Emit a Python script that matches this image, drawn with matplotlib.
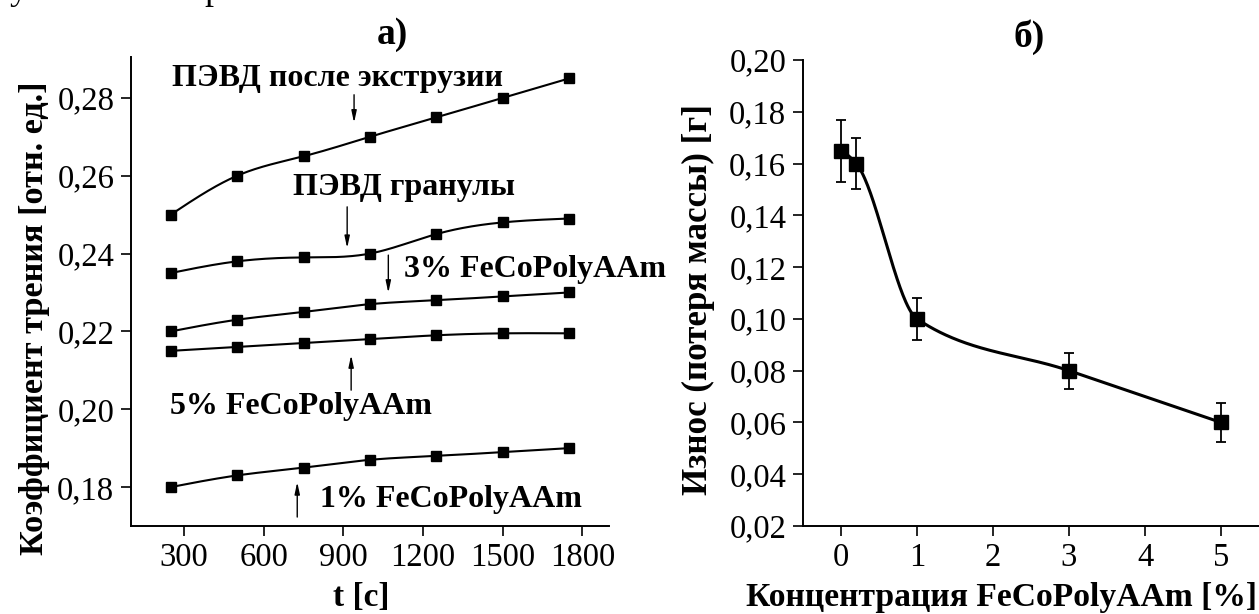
import numpy as np
import matplotlib
matplotlib.use("Agg")
import matplotlib.pyplot as plt
from matplotlib.ticker import FuncFormatter

plt.rcParams["font.family"] = ["Liberation Serif", "DejaVu Serif"]

# ---- panel a): friction coefficient vs time ----
time_s = [250, 500, 750, 1000, 1250, 1500, 1750]
ldpe_extruded = [0.250, 0.260, 0.265, 0.270, 0.275, 0.280, 0.285]
ldpe_granules = [0.235, 0.238, 0.239, 0.240, 0.245, 0.248, 0.249]
fecopolyaam_3 = [0.220, 0.223, 0.225, 0.227, 0.228, 0.229, 0.230]
fecopolyaam_5 = [0.215, 0.216, 0.217, 0.218, 0.219, 0.2195, 0.2195]
fecopolyaam_1 = [0.180, 0.183, 0.185, 0.187, 0.188, 0.189, 0.190]
time_ticks = [300, 600, 900, 1200, 1500, 1800]
friction_ticks = [0.18, 0.20, 0.22, 0.24, 0.26, 0.28]

# ---- panel б): wear vs concentration ----
concentration = [0, 0.2, 1, 3, 5]
wear = [0.165, 0.160, 0.100, 0.080, 0.060]
wear_err = [0.012, 0.010, 0.008, 0.007, 0.0075]
conc_ticks = [0, 1, 2, 3, 4, 5]
wear_ticks = [0.02, 0.04, 0.06, 0.08, 0.10, 0.12, 0.14, 0.16, 0.18, 0.20]


def natural_spline(x, y, n=300):
    """Natural cubic spline through (x, y), evaluated on a fine grid."""
    x = np.asarray(x, float)
    y = np.asarray(y, float)
    k = len(x)
    h = np.diff(x)
    A = np.zeros((k, k))
    r = np.zeros(k)
    A[0, 0] = A[-1, -1] = 1.0
    for i in range(1, k - 1):
        A[i, i - 1] = h[i - 1]
        A[i, i] = 2 * (h[i - 1] + h[i])
        A[i, i + 1] = h[i]
        r[i] = 3 * ((y[i + 1] - y[i]) / h[i] - (y[i] - y[i - 1]) / h[i - 1])
    c = np.linalg.solve(A, r)
    b = (y[1:] - y[:-1]) / h - h * (2 * c[:-1] + c[1:]) / 3
    d = (c[1:] - c[:-1]) / (3 * h)
    xs = np.linspace(x[0], x[-1], n)
    idx = np.clip(np.searchsorted(x, xs) - 1, 0, k - 2)
    t = xs - x[idx]
    ys = y[idx] + b[idx] * t + c[idx] * t ** 2 + d[idx] * t ** 3
    return xs, ys


def pchip(x, y, n=400):
    """Monotone piecewise cubic Hermite curve through (x, y)."""
    x = np.asarray(x, float)
    y = np.asarray(y, float)
    h = np.diff(x)
    delta = np.diff(y) / h
    k = len(x)
    m = np.zeros(k)
    for i in range(1, k - 1):
        if delta[i - 1] * delta[i] > 0:
            w1 = 2 * h[i] + h[i - 1]
            w2 = h[i] + 2 * h[i - 1]
            m[i] = (w1 + w2) / (w1 / delta[i - 1] + w2 / delta[i])
    m[0] = ((2 * h[0] + h[1]) * delta[0] - h[0] * delta[1]) / (h[0] + h[1])
    if np.sign(m[0]) != np.sign(delta[0]):
        m[0] = 0
    m[-1] = ((2 * h[-1] + h[-2]) * delta[-1] - h[-1] * delta[-2]) / (h[-1] + h[-2])
    if np.sign(m[-1]) != np.sign(delta[-1]):
        m[-1] = 0
    xs = np.linspace(x[0], x[-1], n)
    idx = np.clip(np.searchsorted(x, xs) - 1, 0, k - 2)
    t = (xs - x[idx]) / h[idx]
    h00 = 2 * t ** 3 - 3 * t ** 2 + 1
    h10 = t ** 3 - 2 * t ** 2 + t
    h01 = -2 * t ** 3 + 3 * t ** 2
    h11 = t ** 3 - t ** 2
    ys = (h00 * y[idx] + h10 * h[idx] * m[idx]
          + h01 * y[idx + 1] + h11 * h[idx] * m[idx + 1])
    return xs, ys


comma = FuncFormatter(lambda v, p: f"{v:.2f}".replace(".", ","))
TICK_FS = 23.5
NOTE_FS = 23

fig = plt.figure(figsize=(12.59, 6.14), dpi=100)
W, H = 1259, 614


def place(l, t, r, b):
    return fig.add_axes([l / W, 1 - b / H, (r - l) / W, (b - t) / H])


def style(ax):
    for s in ("top", "right"):
        ax.spines[s].set_visible(False)
    for s in ("left", "bottom"):
        ax.spines[s].set_linewidth(1.4)
    ax.tick_params(direction="out", length=7, width=1.2,
                   labelsize=TICK_FS, pad=5)


# descenders of the preceding text line, cut by the top edge
fig.text(19 / W, 1 + 1 / H, "у", ha="center", va="baseline", fontsize=26)
fig.text(213 / W, 1 + 1 / H, "р", ha="center", va="baseline", fontsize=26)

# panel a)
ax1 = place(131, 57, 609, 526)
style(ax1)
for series in (ldpe_extruded, ldpe_granules, fecopolyaam_3,
               fecopolyaam_5, fecopolyaam_1):
    xs, ys = natural_spline(time_s, series)
    ax1.plot(xs, ys, color="black", lw=1.5)
    ax1.plot(time_s, series, ls="none", marker="s", ms=7.5,
             color="black")
ax1.set_xlim(100, 1900)
ax1.set_ylim(0.17, 0.2905)
ax1.set_xticks(time_ticks)
ax1.set_yticks(friction_ticks)
ax1.yaxis.set_major_formatter(comma)
ax1.set_xlabel("t [c]", fontsize=24, fontweight="bold")
ax1.xaxis.set_label_coords(0.481, -0.119)
ax1.set_ylabel("Коэффициент трения [отн. ед.]", fontsize=24.7,
               fontweight="bold")
ax1.yaxis.set_label_coords(-0.1695, 0.4435)

arrow = dict(arrowstyle="-|>,head_length=0.7,head_width=0.15",
             color="black", lw=1.0, shrinkA=0, shrinkB=0)
note = dict(fontsize=NOTE_FS, fontweight="bold", clip_on=False)

ax1.text(876, 0.2851, "ПЭВД после экструзии", ha="center", va="center",
         **note)
ax1.annotate("", xy=(940, 0.2736), xytext=(940, 0.2808), arrowprops=arrow)
ax1.text(1129, 0.2569, "ПЭВД гранулы", ha="center", va="center", **note)
ax1.annotate("", xy=(914, 0.2414), xytext=(914, 0.2520), arrowprops=arrow)
ax1.text(1129, 0.2358, "3% FeCoPolyAAm", ha="left", va="center", **note)
ax1.annotate("", xy=(1069, 0.2299), xytext=(1069, 0.2396), arrowprops=arrow)
ax1.text(741, 0.2008, "5% FeCoPolyAAm", ha="center", va="center", **note)
ax1.annotate("", xy=(929, 0.2139), xytext=(929, 0.2049), arrowprops=arrow)
ax1.text(1306, 0.1767, "1% FeCoPolyAAm", ha="center", va="center", **note)
ax1.annotate("", xy=(726, 0.1813), xytext=(726, 0.1723), arrowprops=arrow)

fig.text(392 / W, 1 - 35 / H, "а)", ha="center", va="center",
         fontsize=27, fontweight="bold")

# panel б)
ax2 = place(803, 60, 1259, 526)
style(ax2)
xs, ys = pchip(concentration, wear)
ax2.plot(xs, ys, color="black", lw=2.2)
ax2.errorbar(concentration, wear, yerr=wear_err, fmt="s", ms=9.5,
             color="black", ecolor="black", elinewidth=1.3, capsize=3.8,
             capthick=1.3)
ax2.set_xlim(-0.5, 5.5)
ax2.set_ylim(0.02, 0.20)
ax2.set_xticks(conc_ticks)
ax2.set_yticks(wear_ticks)
ax2.yaxis.set_major_formatter(comma)
ax2.set_xlabel("Концентрация FeCoPolyAAm [%]", fontsize=24.2,
               fontweight="bold")
ax2.xaxis.set_label_coords(0.436, -0.12)
ax2.set_ylabel("Износ (потеря массы) [г]", fontsize=25.2,
               fontweight="bold")
ax2.yaxis.set_label_coords(-0.193, 0.487)

fig.text(1029 / W, 1 - 37 / H, "б)", ha="center", va="center",
         fontsize=27, fontweight="bold")

fig.savefig("out.png", dpi=100)
